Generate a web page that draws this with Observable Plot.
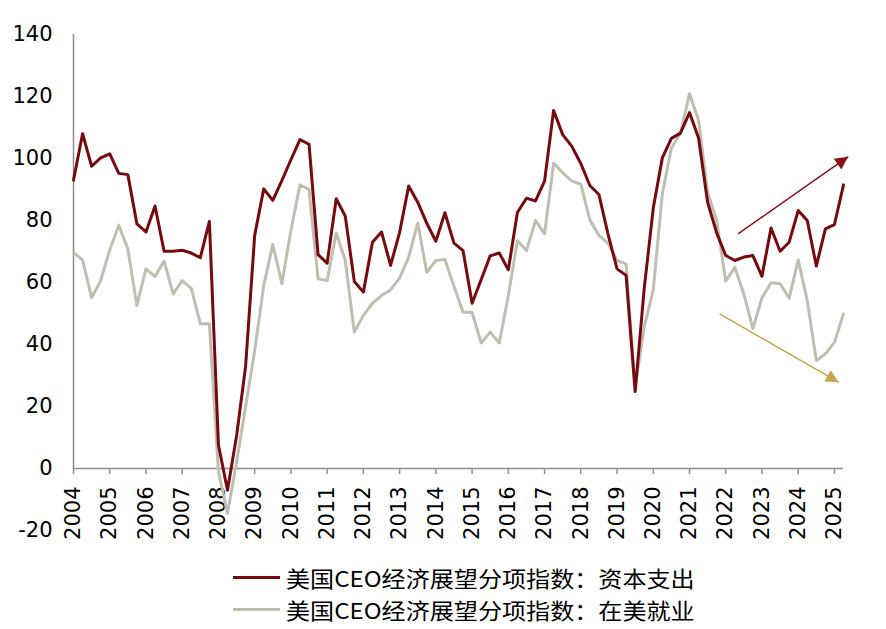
<!DOCTYPE html>
<html><head><meta charset="utf-8">
<script src="https://cdn.jsdelivr.net/npm/d3@7"></script>
<script src="https://cdn.jsdelivr.net/npm/@observablehq/plot@0.6"></script>
<style>
body{margin:0;background:#fff;}
#wrap{position:relative;width:886px;height:629px;background:#fff;}
#legend{position:absolute;left:233px;top:562px;font-family:"Noto Sans CJK SC",sans-serif;font-size:21.5px;color:#000;}
.row{display:flex;align-items:center;height:31.5px;white-space:nowrap;}
.row span{display:block;line-height:31.5px;transform:scaleX(1.12);transform-origin:0 50%;}
.sw{width:47px;height:3px;margin-right:6px;}
</style></head><body><div id="wrap"><div id="chart"></div><div id="legend"></div></div>
<script>
const seriesNames = ["美国CEO经济展望分项指数：资本支出", "美国CEO经济展望分项指数：在美就业"];
const seriesColors = ["#760A0E", "#BFBEB0"];
const startYear = 2004; // first quarter 2004Q1, quarterly
const capex = [
  93, 108, 97.5, 100.2,
  101.5, 95.2, 94.8, 78.9,
  76.3, 84.7, 70.1, 70.1,
  70.4, 69.5, 68.0, 79.7,
  7.6, -7, 10.5, 33,
  75.2, 90.2, 86.5, 92.9,
  99.6, 106.1, 104.6, 69.0,
  66.2, 87.0, 81.4, 60.3,
  56.9, 73.0, 76.3, 65.5,
  76.2, 91.1, 85.9, 79.1,
  73.3, 82.5, 72.7, 70.3,
  53.3, 60.9, 68.6, 69.5,
  64.1, 82.6, 87.2, 86.3,
  92.7, 115.5, 107.7, 104,
  98.4, 91.3, 88.4, 75.7,
  64.4, 62.3, 24.8, 58.0,
  84.0, 100.2, 106.5, 108.2,
  114.8, 106.6, 85.9, 76.0,
  68.7, 67.1, 68.2, 68.7,
  62.0, 77.6, 70.1, 73.0,
  83.2, 80.0, 65.3, 77.3,
  78.7, 91.5
];
const employ = [
  69.6, 67.3, 55.1, 60.6,
  70.5, 78.5, 70.8, 52.6,
  64.4, 61.9, 66.9, 56.3,
  60.6, 58.1, 46.7, 46.7,
  -1, -14.5, 2, 20,
  38, 59, 72.3, 59.6,
  76.8, 91.5, 90, 61.2,
  60.6, 76.0, 67.1, 44.0,
  49.4, 53.3, 55.8, 57.6,
  61.5, 68.2, 79.2, 63.3,
  67.1, 67.4, 58.8, 50.4,
  50.4, 40.5, 44.0, 40.5,
  55.8, 73.5, 70.3, 80.0,
  75.7, 98.5, 95.4, 92.8,
  91.7, 80.2, 75.2, 72.7,
  67.1, 66.0, 26.2, 45.6,
  57.6, 88.6, 103.4, 108.2,
  120.9, 112.4, 89.1, 80.0,
  60.4, 64.9, 56.3, 45.1,
  55.1, 59.9, 59.6, 54.9,
  67.3, 54.2, 34.8, 37.0,
  40.7, 49.9
];
const yTicks = [-20, 0, 20, 40, 60, 80, 100, 120, 140];
const xTickYears = d3.range(2004, 2026);
const arrowStarts = [[2022.34, 75.7], [2021.83, 49.9]];
const arrowEnds = [[2025.38, 100.6], [2025.12, 27.8]];
const arrowColors = ["#8B1116", "#C9A44C"];

const arrows = arrowStarts.map((s, i) => ({x1: s[0], y1: s[1], x2: arrowEnds[i][0], y2: arrowEnds[i][1], color: arrowColors[i]}));
const toRows = (vals) => vals.map((v, i) => ({t: startYear + i / 4, v}));
const axisColor = "#8f8f8f";

const plot = Plot.plot({
  width: 886, height: 550,
  marginLeft: 73, marginRight: 43, marginTop: 34, marginBottom: 20,
  x: {domain: [2004, 2025.25], axis: null},
  y: {domain: [-20, 140], axis: null},
  style: {fontFamily: "DejaVu Sans", fontSize: "21px", color: "#000", background: "#fff", overflow: "visible"},
  marks: [
    Plot.axisY(yTicks, {anchor: "left", tickSize: 0, tickPadding: 21, fontSize: 21, tickFormat: d => String(d)}),
    Plot.ruleX([2004], {y1: 0, y2: 140, stroke: axisColor, strokeWidth: 1.5}),
    Plot.ruleY([0], {stroke: axisColor, strokeWidth: 1.5}),
    Plot.ruleX(xTickYears, {x: d => d, y1: 0, y2: 0, insetBottom: -6, stroke: axisColor, strokeWidth: 1.5}),
    Plot.text(xTickYears, {x: d => d, y: 0, text: d => String(d), rotate: -90, textAnchor: "end", dy: 18, fontSize: 21, fill: "#000"}),
    Plot.line(toRows(employ), {x: "t", y: "v", stroke: seriesColors[1], strokeWidth: 3}),
    Plot.line(toRows(capex), {x: "t", y: "v", stroke: seriesColors[0], strokeWidth: 3}),
    Plot.link(arrows, {x1: "x1", y1: "y1", x2: "x2", y2: "y2", stroke: "color", strokeWidth: 1.5})
  ]
});
document.getElementById("chart").appendChild(plot);

// filled arrowheads on the annotation links
const svg = d3.select(plot);
const defs = svg.insert("defs", ":first-child");
arrowColors.forEach((c, i) => {
  defs.append("marker").attr("id", "ah" + i).attr("viewBox", "0 0 10 10")
    .attr("refX", 10).attr("refY", 5).attr("markerUnits", "userSpaceOnUse")
    .attr("markerWidth", 16).attr("markerHeight", 13).attr("orient", "auto")
    .append("path").attr("d", "M0,0L10,5L0,10Z").attr("fill", c);
});
svg.selectAll('g[aria-label="link"] path').each(function(d, i) {
  d3.select(this).attr("marker-end", `url(#ah${i})`);
});

const legend = d3.select("#legend");
seriesNames.forEach((n, i) => {
  const r = legend.append("div").attr("class", "row");
  r.append("div").attr("class", "sw").style("background", seriesColors[i]);
  r.append("span").text(n);
});
</script></body></html>
